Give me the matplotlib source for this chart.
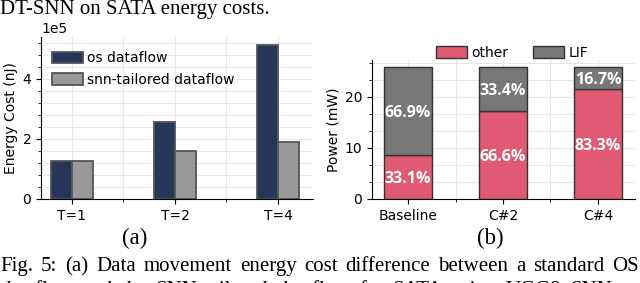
import matplotlib
matplotlib.use("Agg")
import matplotlib.pyplot as plt
from matplotlib.ticker import AutoMinorLocator, MultipleLocator
import numpy as np

# (a) data movement energy cost
steps = ["T=1", "T=2", "T=4"]
os_energy = [1.28e5, 2.57e5, 5.13e5]
snn_energy = [1.28e5, 1.60e5, 1.91e5]

# (b) power breakdown
configs = ["Baseline", "C#2", "C#4"]
other_power = [8.57, 17.25, 21.57]
lif_power = [17.33, 8.65, 4.33]
other_pct = ["33.1%", "66.6%", "83.3%"]
lif_pct = ["66.9%", "33.4%", "16.7%"]

navy = "#25365a"
light_gray = "#999999"
pink = "#df5a72"
dark_gray = "#777777"
grid_c = "#e6e6e6"

W, H = 640, 283
fig = plt.figure(figsize=(6.4, 2.83), dpi=100)
ax1 = fig.add_axes([41 / W, 1 - 199 / H, 272 / W, 162 / H])
ax2 = fig.add_axes([372 / W, 1 - 199 / H, 263 / W, 139 / H])


def style_axes(ax):
    ax.spines["top"].set_visible(False)
    ax.spines["right"].set_visible(False)
    ax.set_axisbelow(True)
    ax.xaxis.set_minor_locator(MultipleLocator(0.5))
    ax.grid(True, which="both", color=grid_c, linewidth=0.8)
    ax.tick_params(labelsize=10, length=3.5, width=0.8)
    ax.tick_params(which="minor", length=2, width=0.6)


# ---- (a)
x = np.arange(len(steps))
w = 0.205
ax1.bar(x - w / 2, os_energy, w, color=navy, edgecolor="#555555",
        linewidth=1.3, label="os dataflow")
ax1.bar(x + w / 2, snn_energy, w, color=light_gray, edgecolor="#555555",
        linewidth=1.3, label="snn-tailored dataflow")
ax1.set_xlim(-0.3, 2.34)
ax1.set_ylim(0, 5.4e5)
ax1.set_xticks(x)
ax1.set_xticklabels(steps)
ax1.yaxis.set_major_locator(MultipleLocator(2e5))
ax1.yaxis.set_minor_locator(AutoMinorLocator(5))
ax1.ticklabel_format(axis="y", style="sci", scilimits=(0, 0))
ax1.yaxis.get_offset_text().set_fontsize(10)
ax1.set_ylabel("Energy Cost (nJ)", fontsize=10, labelpad=3)
style_axes(ax1)
ax1.legend(loc="upper left", frameon=False, fontsize=10, handlelength=2.2,
           handleheight=0.9, handletextpad=0.3, labelspacing=0.55,
           borderaxespad=0.4, bbox_to_anchor=(0.0, 1 - 3 / 162))

# ---- (b)
x2 = np.arange(len(configs))
w2 = 0.5
ax2.bar(x2, other_power, w2, color=pink, edgecolor="#333333",
        linewidth=1.0, label="other")
ax2.bar(x2, lif_power, w2, bottom=other_power, color=dark_gray,
        edgecolor="#333333", linewidth=1.0, label="LIF")
for i in range(len(configs)):
    ax2.text(x2[i], other_power[i] / 2 - 0.4, other_pct[i], ha="center",
             va="center", color="white", fontsize=11.5, fontweight="bold",
             family="Open Sans")
    ax2.text(x2[i], other_power[i] + lif_power[i] / 2 - 0.4, lif_pct[i],
             ha="center", va="center", color="white", fontsize=11.5,
             fontweight="bold", family="Open Sans")
ax2.set_xlim(-0.38, 2.39)
ax2.set_ylim(0, 27.25)
ax2.set_xticks(x2)
ax2.set_xticklabels(configs)
ax2.yaxis.set_major_locator(MultipleLocator(10))
ax2.yaxis.set_minor_locator(AutoMinorLocator(3))
ax2.set_ylabel("Power (mW)", fontsize=10, labelpad=3)
style_axes(ax2)
ax2.legend(loc="center", ncol=2, frameon=False, fontsize=10,
           handlelength=2.2, handleheight=0.9, handletextpad=0.3,
           columnspacing=1.85, bbox_to_anchor=(512 / W, 1 - 53 / H),
           bbox_transform=fig.transFigure)

# ---- caption text around the figure
serif = "Liberation Serif"


def justify(line, y_px, x0_px, x1_px, size):
    # spread the words of one caption line over [x0, x1] like the paper does
    words = line.split()
    texts = [fig.text(0, 1 - y_px / H, wd, family=serif, fontsize=size,
                      va="baseline", ha="left") for wd in words]
    renderer = fig.canvas.get_renderer()
    widths = [t.get_window_extent(renderer).width for t in texts]
    gap = (x1_px - x0_px - sum(widths)) / (len(words) - 1)
    pos = x0_px
    for t, wd_px in zip(texts, widths):
        t.set_x(pos / W)
        pos += wd_px + gap


fig.text(0.0, 1 - 14 / H, "DT-SNN on SATA energy costs.", family=serif,
         fontsize=15, va="baseline", ha="left")
fig.text(135 / W, 1 - 244 / H, "(a)", family=serif, fontsize=16.5,
         va="baseline", ha="center")
fig.text(490 / W, 1 - 244 / H, "(b)", family=serif, fontsize=16.5,
         va="baseline", ha="center")
justify("Fig. 5: (a) Data movement energy cost difference between a standard OS",
        271, 0, 639, 15)
justify("dataflow and the SNN-tailored dataflow for SATA using VGG9 SNN",
        295, 0, 612, 15)

fig.savefig("out.png", dpi=100)
